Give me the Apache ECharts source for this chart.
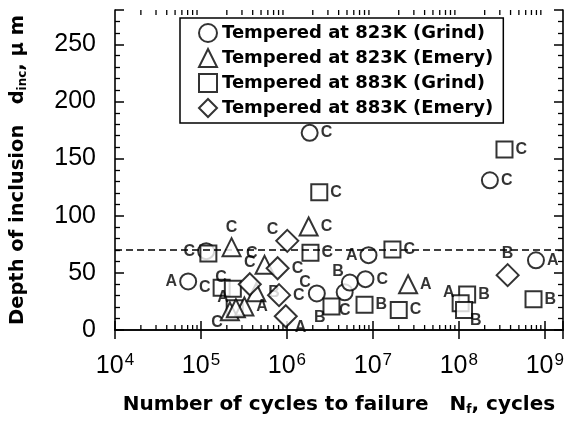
<!DOCTYPE html>
<html><head><meta charset="utf-8">
<script src="https://cdn.jsdelivr.net/npm/echarts@6/dist/echarts.min.js"></script>
<style>html,body{margin:0;padding:0;background:#fff}#c{width:571px;height:421px}</style>
</head><body><div id="c"></div>
<script>
// ---- data ----
const xTickExps = [4,5,6,7,8,9];
const yTicks = [0,50,100,150,200,250];
const limitDepth = 70;

const s1Name = 'Tempered at 823K (Grind)';
const s1N = [7.1e4, 1.15e5, 1.84e6, 2.3e8, 8.9e6, 7.9e8, 2.23e6, 4.7e6, 5.4e6, 8.2e6];
const s1D = [42.5, 69, 172.5, 131, 65.5, 61, 32, 33, 41.5, 44.5];
const s1L = ['A','C','C','C','A','A','C','C','B','C'];
const s1P = ['l','l','r','r','l','r','tl','b','tl','r'];

const s2Name = 'Tempered at 823K (Emery)';
const s2N = [2.27e5, 1.79e6, 5.5e5, 4.4e5, 2.57e7, 2.17e5, 3.2e5, 2.55e5];
const s2D = [72.5, 90.5, 57, 33, 40, 16.3, 20.5, 19];
const s2L = ['C','C','C','B','A','C','A','A'];
const s2P = ['t','r','tl','r','r','bl','r','tl'];

const s3Name = 'Tempered at 883K (Grind)';
const s3N = [1.22e5, 1.74e5, 2.35e5, 2.47e5, 1.88e6, 2.38e6, 1.69e7, 3.4e8, 3.3e6, 8.0e6, 2.0e7, 1.25e8, 1.05e8, 1.15e8, 7.4e8];
const s3D = [67, 37, 36, 19, 67.5, 120.5, 70.5, 158, 20.5, 22, 17.5, 31, 23.5, 17.5, 27];
const s3L = ['','C','C','','C','C','C','C','B','B','C','B','A','B','B'];
const s3P = ['','l','tl','','r','r','r','r','bl','r','r','r','tl','br','r'];

const s4Name = 'Tempered at 883K (Emery)';
const s4N = [1.01e6, 7.8e5, 3.7e5, 8.1e5, 9.7e5, 3.7e8];
const s4D = [78, 54, 40, 30.5, 12, 48];
const s4L = ['C','C','C','C','A','B'];
const s4P = ['tl','r','t','r','br','t'];

// ---- chart ----
const FONT = '"Liberation Sans", Arial, sans-serif';
const TFONT = '"DejaVu Sans", sans-serif';
const xMin = 1e4, xMax = 1.63e9, yMin = 0, yMax = 280;

function lp(p){
  switch(p){
    case 'r': return {position:'right', distance:2};
    case 'l': return {position:'left', distance:2};
    case 't': return {position:'top', distance:2};
    case 'b': return {position:'bottom', distance:1};
    case 'tl': return {position:'left', distance:0, offset:[3,-11]};
    case 'tr': return {position:'right', distance:0, offset:[-3,-11]};
    case 'bl': return {position:'left', distance:0, offset:[3,11]};
    case 'br': return {position:'right', distance:0, offset:[-3,11]};
    default: return {show:false};
  }
}
function mk(N,D,L,P){
  return N.map((n,i)=>({value:[n,D[i]], label:Object.assign({show:true, formatter:L[i]}, lp(P[i]))}));
}
const markerStyle = {color:'#fff', borderColor:'#000', borderWidth:2};
const labelStyle = {show:true, color:'#000', fontSize:16, fontWeight:'bold', fontFamily:FONT};

function scat(name, data, symbol, size, z){
  return {type:'scatter', name, data, symbol, symbolSize:size, itemStyle:markerStyle,
    label:labelStyle, emphasis:{disabled:true}, z:z};
}

const minorVals = [];
for (let k = 4; k <= 9; k++) for (let m = 2; m <= 9; m++) { const v = m*Math.pow(10,k); if (v < xMax) minorVals.push(v); }

const axisLine = {show:true, lineStyle:{color:'#000', width:1.6}};

const option = {
  animation:false,
  backgroundColor:'#fff',
  textStyle:{fontFamily:FONT},
  grid:{left:108, right:8, top:10, bottom:80, containLabel:false},
  legend:{
    data:[s1Name,s2Name,s3Name,s4Name], orient:'vertical', left:180, top:18,
    backgroundColor:'#fff', borderColor:'#000', borderWidth:1.5, borderRadius:0,
    padding:[5,10,5,18], itemGap:5, itemWidth:18, itemHeight:18,
    textStyle:{fontSize:18, fontWeight:'bold', color:'#000', fontFamily:TFONT},
    selectedMode:false
  },
  xAxis:[{
    type:'log', logBase:10, min:xMin, max:xMax, position:'bottom',
    axisLine, splitLine:{show:false},
    axisTick:{show:true, inside:true, length:9, lineStyle:{color:'#000', width:1.5}},
    axisLabel:{show:true, margin:22, color:'#000', fontSize:25, fontFamily:FONT,
      formatter:function(v){ const e = Math.log10(v); const r = Math.round(e); if (Math.abs(e-r) > 1e-6) return ''; return '10{sup|' + r + '}'; },
      rich:{sup:{fontSize:17, color:'#000', fontFamily:FONT, verticalAlign:'top', padding:[0,0,12,1]}}
    },
    name:'Number of cycles to failure   N{sub|f}, cycles', nameLocation:'middle', nameGap:64,
    nameTextStyle:{fontSize:20, fontWeight:'bold', color:'#000', fontFamily:TFONT,
      rich:{sub:{fontSize:12, fontWeight:'bold', color:'#000', fontFamily:TFONT, verticalAlign:'bottom', padding:[10,0,0,0]}}}
  },{
    type:'log', logBase:10, min:xMin, max:xMax, position:'top',
    axisLine, splitLine:{show:false}, axisLabel:{show:false},
    axisTick:{show:true, inside:true, length:9, lineStyle:{color:'#000', width:1.5}}
  }],
  yAxis:[{
    type:'value', min:yMin, max:yMax, interval:50, position:'left',
    axisLine, splitLine:{show:false},
    axisTick:{show:true, inside:true, length:9, lineStyle:{color:'#000', width:1.5}},
    minorTick:{show:true, splitNumber:5, length:5, lineStyle:{color:'#000', width:1.3}},
    axisLabel:{color:'#000', fontSize:25, fontFamily:FONT, margin:19, showMaxLabel:false,
      formatter:function(v){ return yTicks.indexOf(v) >= 0 ? String(v) : ''; }},
    name:'Depth of inclusion   {s|d}{sub|inc}{s|, μ m}', nameLocation:'middle', nameGap:86,
    nameTextStyle:{fontSize:19.5, fontWeight:'bold', color:'#000', fontFamily:TFONT,
      rich:{s:{fontSize:19.5, fontWeight:'bold', color:'#000', fontFamily:TFONT},
            sub:{fontSize:12, fontWeight:'bold', color:'#000', fontFamily:TFONT, verticalAlign:'bottom', padding:[10,0,0,0]}}}
  },{
    type:'value', min:yMin, max:yMax, interval:50, position:'right',
    axisLine, splitLine:{show:false}, axisLabel:{show:false},
    axisTick:{show:true, inside:true, length:9, lineStyle:{color:'#000', width:1.5}},
    minorTick:{show:true, splitNumber:5, length:5, lineStyle:{color:'#000', width:1.3}}
  }],
  series:[
    {type:'scatter', data:[], z:1, silent:true,
      markLine:{silent:true, symbol:['none','none'], label:{show:false},
        lineStyle:{type:[7,4], color:'#000', width:1.5}, data:[{yAxis:limitDepth}]}},
    {type:'custom', silent:true, z:1,
      data:minorVals.map(v=>[v]),
      encode:{x:0},
      renderItem:function(params, api){
        const v = api.value(0);
        const b = api.coord([v, yMin]);
        const t = api.coord([v, yMax]);
        return {type:'group', children:[
          {type:'line', shape:{x1:b[0], y1:b[1], x2:b[0], y2:b[1]-5}, style:{stroke:'#000', lineWidth:1.3}},
          {type:'line', shape:{x1:t[0], y1:t[1], x2:t[0], y2:t[1]+5}, style:{stroke:'#000', lineWidth:1.3}}
        ]};
      }},
    scat(s1Name, mk(s1N,s1D,s1L,s1P), 'circle', 16, 3),
    scat(s2Name, mk(s2N,s2D,s2L,s2P), 'triangle', 18, 5),
    scat(s3Name, mk(s3N,s3D,s3L,s3P), 'rect', 16, 4),
    scat(s4Name, mk(s4N,s4D,s4L,s4P), 'diamond', 22, 6)
  ]
};
const chart = echarts.init(document.getElementById('c'), null, {renderer:'canvas'});
chart.setOption(option);
</script></body></html>
